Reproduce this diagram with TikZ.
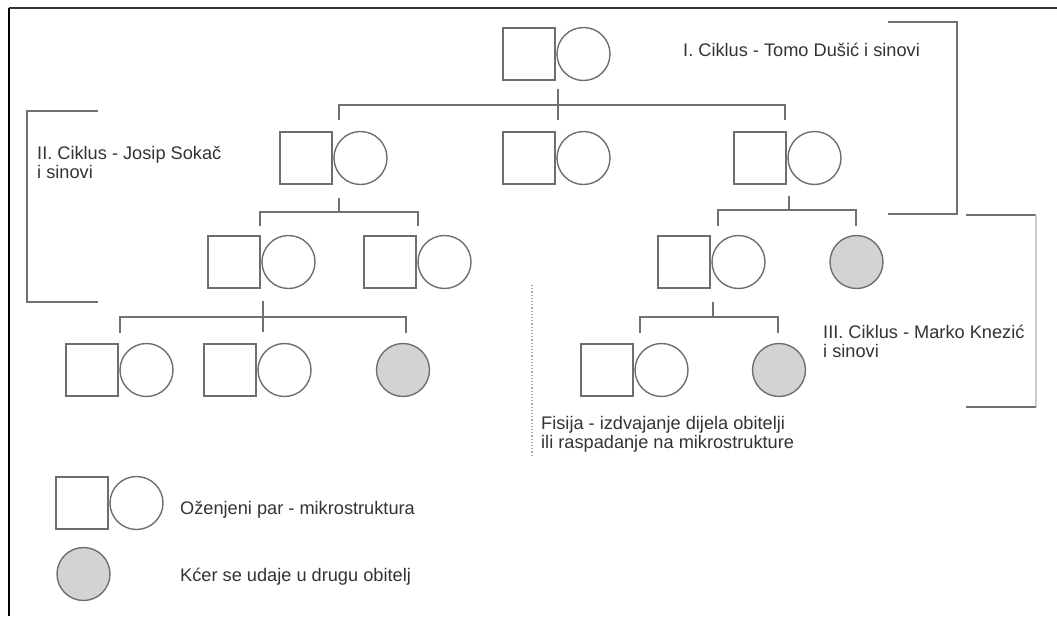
\documentclass[tikz,border=0pt]{standalone}
\usepackage{fontspec}
\setmainfont{Liberation Sans}
\definecolor{shapec}{HTML}{6E6E6E}
\definecolor{linec}{HTML}{707070}
\definecolor{grayfill}{HTML}{D2D3D5}
\definecolor{txtc}{HTML}{333333}
\definecolor{lightc}{HTML}{CCCCCC}
\newcommand\labfont{\fontsize{18.2}{19}\selectfont}
\tikzset{
  sq/.style={rectangle, draw=shapec, line width=1.4pt, minimum size=52pt, inner sep=0pt},
  ci/.style={circle, draw=shapec, line width=1.4pt, minimum size=53pt, inner sep=0pt},
  gci/.style={ci, fill=grayfill},
  conn/.style={draw=linec, line width=1.4pt},
  brk/.style={draw=linec, line width=1.5pt},
  lab/.style={text=txtc, font=\labfont, anchor=base west, inner sep=0pt}
}
\newcommand\couplenode[3]{%
  \node[sq] (#1s) at (#2+26,#3) {};
  \node[ci] (#1c) at (#2+80.5,#3) {};}
\begin{document}
\begin{tikzpicture}[x=1pt,y=-1pt]
\useasboundingbox (0,0) rectangle (1057,616);
% frame
\draw[line width=2pt, black!80] (9,8) -- (1057,8);
\draw[line width=1.6pt, black] (9,8) -- (9,616);

% people
\couplenode{a}{503}{54}
\couplenode{b}{280}{158}
\couplenode{c}{503}{158}
\couplenode{d}{734}{158}
\couplenode{e}{208}{262}
\couplenode{f}{364}{262}
\couplenode{g}{658}{262}
\node[gci] (g1) at (856.5,262) {};
\couplenode{h}{66}{370}
\couplenode{k}{204}{370}
\couplenode{m}{581}{370}
\node[gci] (g2) at (403,370) {};
\node[gci] (g3) at (779,370) {};

% family 1
\coordinate (f1t) at (558,89);
\coordinate (f1b) at (558,120);
\coordinate (f1l) at (339,105);
\coordinate (f1r) at (785,105);
\coordinate (f1ld) at (339,120);
\coordinate (f1rd) at (785,120);
\draw[conn] (f1t) -- (f1b);
\draw[conn] (f1ld) -- (f1l) -- (f1r) -- (f1rd);
% family 2 (left)
\coordinate (f2t) at (339,198);
\coordinate (f2m) at (339,212);
\coordinate (f2l) at (260,212);
\coordinate (f2r) at (418,212);
\coordinate (f2ld) at (260,226);
\coordinate (f2rd) at (418,226);
\draw[conn] (f2t) -- (f2m);
\draw[conn] (f2ld) -- (f2l) -- (f2r) -- (f2rd);
% family 3 (right)
\coordinate (f3t) at (789,196);
\coordinate (f3m) at (789,210);
\coordinate (f3l) at (718,210);
\coordinate (f3r) at (856,210);
\coordinate (f3ld) at (718,226);
\coordinate (f3rd) at (856,226);
\draw[conn] (f3t) -- (f3m);
\draw[conn] (f3ld) -- (f3l) -- (f3r) -- (f3rd);
% family 4 (left lower)
\coordinate (f4t) at (263,301);
\coordinate (f4b) at (263,332);
\coordinate (f4l) at (120,317);
\coordinate (f4r) at (406,317);
\coordinate (f4ld) at (120,333);
\coordinate (f4rd) at (406,333);
\draw[conn] (f4t) -- (f4b);
\draw[conn] (f4ld) -- (f4l) -- (f4r) -- (f4rd);
% family 5 (right lower)
\coordinate (f5t) at (713,302);
\coordinate (f5m) at (713,317);
\coordinate (f5l) at (640,317);
\coordinate (f5r) at (778,317);
\coordinate (f5ld) at (640,333);
\coordinate (f5rd) at (778,333);
\draw[conn] (f5t) -- (f5m);
\draw[conn] (f5ld) -- (f5l) -- (f5r) -- (f5rd);

% brackets
\coordinate (b1a) at (888,22); \coordinate (b1b) at (957,22);
\coordinate (b1c) at (957,214); \coordinate (b1d) at (888,214);
\draw[brk] (b1a) -- (b1b) -- (b1c) -- (b1d);
\coordinate (b2a) at (98,111); \coordinate (b2b) at (27,111);
\coordinate (b2c) at (27,302); \coordinate (b2d) at (98,302);
\draw[brk] (b2a) -- (b2b) -- (b2c) -- (b2d);
\coordinate (b3a) at (966,215); \coordinate (b3b) at (1036,215);
\coordinate (b3c) at (1036,407); \coordinate (b3d) at (966,407);
\draw[brk] (b3a) -- (b3b);
\draw[draw=lightc, line width=1.2pt] (b3b) -- (b3c);
\draw[brk] (b3c) -- (b3d);
% fission dotted line
\coordinate (dt) at (532,285); \coordinate (db) at (532,456);
\draw[draw=black!35, line width=1.2pt, dotted] (dt) -- (db);

% labels
\node[lab] (t1) at (683,56.5) {I. Ciklus - Tomo Dušić i sinovi};
\node[lab] (t2a) at (37,159.5) {II. Ciklus - Josip Sokač};
\node[lab] (t2b) at (37,178.5) {i sinovi};
\node[lab] (t3a) at (823,338.5) {III. Ciklus - Marko Knezić};
\node[lab] (t3b) at (823,357.5) {i sinovi};
\node[lab] (t4a) at (541,429.5) {Fisija - izdvajanje dijela obitelji};
\node[lab] (t4b) at (541,448.5) {ili raspadanje na mikrostrukture};

% legend
\couplenode{L}{56}{503}
\node[gci] (Lg) at (83.5,574) {};
\node[lab] (l1) at (180,514.5) {Oženjeni par - mikrostruktura};
\node[lab] (l2) at (180,581.5) {Kćer se udaje u drugu obitelj};
\end{tikzpicture}
\end{document}
